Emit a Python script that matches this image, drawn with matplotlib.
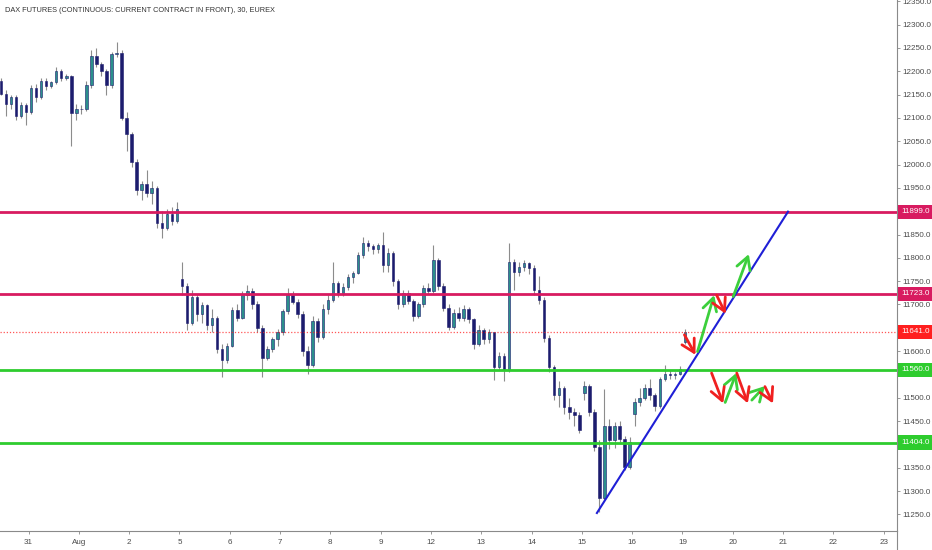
import numpy as np
import matplotlib.pyplot as plt
from matplotlib.lines import Line2D

TITLE = 'DAX FUTURES (CONTINUOUS: CURRENT CONTRACT IN FRONT), 30, EUREX'

# ── Data ──────────────────────────────────────────
# x axis: one label per trading session (Jul 30 tail is unlabelled)
DAY_LABELS = ['31', 'Aug', '2', '5', '6', '7', '8', '9', '12', '13', '14',
              '15', '16', '19', '20', '21', '22', '23']

# candles per session: Jul 30 (last 6), Jul 31 .. Aug 16, Aug 19 (first one)
SESSION_BARS = [6] + [10] * 13 + [1]

OPEN = [
    12178, 12152, 12130, 12145, 12105, 12128,                               # Jul 30
    12112, 12165, 12145, 12180, 12168, 12176, 12200, 12186, 12190, 12110,   # Jul 31
    12120, 12118, 12170, 12232, 12215, 12200, 12170, 12238, 12240, 12100,   # Aug 1
    12065, 12005, 11945, 11958, 11940, 11950, 11875, 11865, 11895, 11880,   # Aug 2
    11755, 11740, 11660, 11715, 11680, 11698, 11655, 11670, 11605, 11580,   # Aug 5
    11612, 11688, 11672, 11720, 11728, 11700, 11650, 11585, 11605, 11625,   # Aug 6
    11640, 11685, 11720, 11705, 11680, 11600, 11570, 11665, 11630, 11690,   # Aug 7
    11710, 11745, 11725, 11738, 11758, 11768, 11805, 11832, 11825, 11818,   # Aug 8
    11828, 11785, 11810, 11750, 11700, 11725, 11708, 11675, 11700, 11735,   # Aug 9
    11728, 11795, 11740, 11692, 11652, 11682, 11672, 11690, 11668, 11615,   # Aug 12
    11645, 11625, 11640, 11565, 11590, 11560, 11790, 11770, 11780, 11788,   # Aug 13
    11778, 11730, 11710, 11628, 11565, 11505, 11520, 11480, 11470, 11462,   # Aug 14
    11510, 11525, 11470, 11395, 11285, 11440, 11410, 11440, 11412, 11352,   # Aug 15
    11465, 11492, 11500, 11522, 11505, 11482, 11540, 11552, 11548, 11552,   # Aug 16
    11620,                                                                  # Aug 19
]
HIGH = [
    12185, 12160, 12150, 12150, 12135, 12132,
    12170, 12172, 12185, 12185, 12180, 12210, 12205, 12195, 12192, 12130,
    12128, 12180, 12245, 12250, 12220, 12205, 12242, 12262, 12245, 12112,
    12070, 12012, 11965, 11988, 11965, 11955, 11900, 11905, 11910, 11920,
    11790, 11745, 11730, 11722, 11705, 11700, 11690, 11675, 11615, 11618,
    11695, 11700, 11728, 11742, 11735, 11708, 11655, 11612, 11630, 11648,
    11690, 11735, 11728, 11712, 11685, 11610, 11675, 11670, 11700, 11720,
    11790, 11750, 11745, 11765, 11772, 11812, 11845, 11838, 11830, 11832,
    11855, 11820, 11815, 11755, 11732, 11730, 11712, 11705, 11742, 11745,
    11828, 11800, 11745, 11700, 11690, 11695, 11698, 11695, 11672, 11655,
    11650, 11648, 11642, 11598, 11595, 11832, 11798, 11790, 11795, 11792,
    11785, 11760, 11715, 11635, 11570, 11535, 11525, 11500, 11478, 11470,
    11535, 11530, 11475, 11410, 11518, 11455, 11448, 11450, 11418, 11415,
    11500, 11520, 11530, 11540, 11510, 11545, 11570, 11560, 11555, 11568,
    11648,
]
LOW = [
    12150, 12105, 12120, 12095, 12100, 12085,
    12108, 12135, 12140, 12160, 12165, 12172, 12180, 12182, 12040, 12095,
    12108, 12115, 12165, 12210, 12190, 12150, 12165, 12230, 12095, 12030,
    11995, 11935, 11925, 11930, 11915, 11865, 11842, 11860, 11870, 11875,
    11720, 11645, 11655, 11665, 11660, 11645, 11640, 11595, 11545, 11575,
    11608, 11665, 11668, 11710, 11690, 11640, 11545, 11580, 11598, 11610,
    11635, 11680, 11700, 11670, 11590, 11550, 11565, 11620, 11625, 11680,
    11705, 11715, 11718, 11730, 11745, 11765, 11800, 11815, 11808, 11810,
    11770, 11770, 11740, 11690, 11695, 11700, 11665, 11670, 11695, 11722,
    11725, 11730, 11685, 11645, 11648, 11665, 11665, 11660, 11605, 11610,
    11615, 11618, 11538, 11560, 11535, 11555, 11730, 11762, 11772, 11765,
    11720, 11700, 11620, 11555, 11495, 11480, 11465, 11455, 11440, 11425,
    11495, 11460, 11385, 11255, 11280, 11390, 11392, 11405, 11345, 11348,
    11440, 11482, 11495, 11495, 11472, 11478, 11535, 11540, 11540, 11548,
    11615,
]
CLOSE = [
    12152, 12130, 12145, 12105, 12128, 12112,
    12165, 12145, 12180, 12168, 12176, 12200, 12186, 12190, 12110, 12120,
    12118, 12170, 12232, 12215, 12200, 12170, 12238, 12240, 12100, 12065,
    12005, 11945, 11958, 11940, 11950, 11875, 11865, 11895, 11880, 11905,
    11740, 11660, 11715, 11680, 11698, 11655, 11670, 11605, 11580, 11612,
    11688, 11672, 11720, 11728, 11700, 11650, 11585, 11605, 11625, 11640,
    11685, 11720, 11705, 11680, 11600, 11570, 11665, 11630, 11690, 11710,
    11745, 11725, 11738, 11758, 11768, 11805, 11832, 11825, 11818, 11828,
    11785, 11810, 11750, 11700, 11725, 11708, 11675, 11700, 11735, 11728,
    11795, 11740, 11692, 11652, 11682, 11672, 11690, 11668, 11615, 11645,
    11625, 11640, 11565, 11590, 11560, 11790, 11770, 11780, 11788, 11778,
    11730, 11710, 11628, 11565, 11505, 11520, 11480, 11470, 11462, 11430,
    11525, 11470, 11395, 11285, 11440, 11410, 11440, 11412, 11352, 11405,
    11492, 11500, 11522, 11505, 11482, 11540, 11552, 11548, 11552, 11562,
    11641,
]

# horizontal levels drawn on the chart
RESISTANCE = [11899.0, 11723.0]
SUPPORT = [11560.0, 11404.0]
LAST_PRICE = 11641.0

# rising trendline (session index, price)
TREND_X = [11.30, 15.10]
TREND_Y = [11253, 11899]

# scenario arrows: (x0, y0, x1, y1)
UP_ARROWS = [
    (13.30, 11599, 13.63, 11720),
    (14.01, 11717, 14.32, 11808),
    (13.85, 11490, 14.07, 11553),
    (14.38, 11495, 14.64, 11525),
]
DOWN_ARROWS = [
    (13.04, 11635, 13.26, 11592),
    (13.68, 11720, 13.86, 11680),
    (13.58, 11553, 13.81, 11488),
    (14.08, 11553, 14.30, 11488),
    (14.64, 11524, 14.80, 11488),
]

# ── Styles ────────────────────────────────────────
UP_COL = '#2b8f8c'
DOWN_COL = '#1c1c6e'
WICK_COL = '#8c8c8c'
RES_COL = '#d81b60'
SUP_COL = '#2ecc2e'
LAST_COL = '#ff1f1f'
ARROW_UP = '#3ccf3c'
ARROW_DN = '#f02020'
TEXT_COL = '#4a4a4a'

plt.rcParams['font.family'] = ['Liberation Sans', 'DejaVu Sans']

# bar x positions: 10 slots per session, Jul 30 is session -1 and only its tail is shown
xs = []
for s, n in enumerate(SESSION_BARS):
    first_slot = 10 - n if s == 0 else 0
    for j in range(n):
        xs.append((s - 1) + 0.05 + 0.1 * (first_slot + j))
xs = np.array(xs)
o, h, l, c = map(np.array, (OPEN, HIGH, LOW, CLOSE))

fig = plt.figure(figsize=(9.32, 5.5), dpi=100)
ax = fig.add_axes([0, 19 / 550, 897 / 932, 531 / 550])

# candles
up = c >= o
ax.vlines(xs, l, h, color=WICK_COL, lw=0.8, zorder=2)
body_lo = np.minimum(o, c)
body_h = np.maximum(np.abs(c - o), 1.5)
ax.bar(xs, body_h, bottom=body_lo, width=0.05,
       color=np.where(up, UP_COL, DOWN_COL), edgecolor=DOWN_COL, lw=0.4, zorder=3)

# levels
for lv in RESISTANCE:
    ax.axhline(lv, color=RES_COL, lw=2, zorder=4)
for lv in SUPPORT:
    ax.axhline(lv, color=SUP_COL, lw=2, zorder=4)
ax.axhline(LAST_PRICE, color=LAST_COL, lw=0.9, ls=(0, (1, 1.5)), alpha=0.75, zorder=4)

# trendline
ax.plot(TREND_X, TREND_Y, color='#1f1fd6', lw=1.5, zorder=5)

# arrows
for arrows, col in ((UP_ARROWS, ARROW_UP), (DOWN_ARROWS, ARROW_DN)):
    for x0, y0, x1, y1 in arrows:
        ax.annotate('', xy=(x1, y1), xytext=(x0, y0),
                    arrowprops=dict(arrowstyle='->,head_length=0.5,head_width=0.28',
                                    color=col, lw=2, mutation_scale=18,
                                    shrinkA=0, shrinkB=0),
                    zorder=6)

ax.set_xlim(-0.567, 17.266)
ax.set_ylim(11214.4, 12352.7)

# axes (labels fully covered by the price tags are left blank, as on the original)
tags = [(lv, RES_COL) for lv in RESISTANCE] + [(LAST_PRICE, LAST_COL)] + \
       [(lv, SUP_COL) for lv in SUPPORT]
yt = np.arange(11250, 12351, 50)
ylabels = ['' if any(abs(v - t) < 6 for t, _ in tags) else f'{v:.1f}' for v in yt]
ax.yaxis.tick_right()
ax.set_yticks(yt)
ax.set_yticklabels(ylabels)
ax.set_xticks(range(len(DAY_LABELS)))
ax.set_xticklabels(DAY_LABELS)
ax.tick_params(axis='both', direction='out', length=2.5, width=0.6,
               color='#888888', labelsize=5.8, labelcolor=TEXT_COL)
ax.tick_params(axis='y', pad=1.5)
ax.tick_params(axis='x', pad=3)
for side in ('left', 'top'):
    ax.spines[side].set_visible(False)
for side in ('right', 'bottom'):
    ax.spines[side].set_color('#8a8a8a')
    ax.spines[side].set_linewidth(0.8)
fig.add_artist(Line2D([897 / 932] * 2, [0, 19 / 550], color='#8a8a8a', lw=0.8))

# price tags on the scale
for lv, col in tags:
    ax.text(1.005, lv, f'{lv:.1f}', transform=ax.get_yaxis_transform(),
            ha='left', va='center', fontsize=5.8, color='white', zorder=10,
            clip_on=False,
            bbox=dict(boxstyle='square,pad=0.45', fc=col, ec='none'))

fig.text(5 / 932, 1 - 11 / 550, TITLE, fontsize=5.3, color='#333333',
         ha='left', va='center')

fig.savefig('out.png', dpi=100)
